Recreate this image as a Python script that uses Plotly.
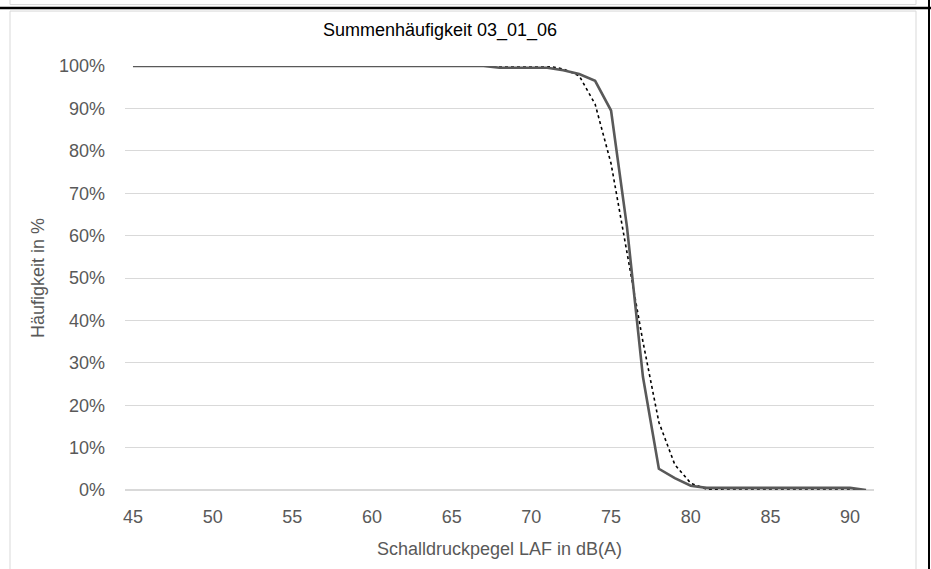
import plotly.graph_objects as go

# ---- data ----
pegel_db = [45, 46, 47, 48, 49, 50, 51, 52, 53, 54, 55, 56, 57, 58, 59, 60,
            61, 62, 63, 64, 65, 66, 67, 68, 69, 70, 71, 72, 73, 74, 75, 76,
            77, 78, 79, 80, 81, 82, 83, 84, 85, 86, 87, 88, 89, 90, 91]
serie_solid = [100, 100, 100, 100, 100, 100, 100, 100, 100, 100, 100, 100,
               100, 100, 100, 100, 100, 100, 100, 100, 100, 100, 100,
               99.6, 99.6, 99.6, 99.6, 99.0, 98.1, 96.5, 89.5, 62.0,
               26.7, 5.0, 2.8, 1.0, 0.5, 0.5, 0.5, 0.5, 0.5, 0.5, 0.5,
               0.5, 0.5, 0.5, 0.0]
serie_dotted = [100, 100, 100, 100, 100, 100, 100, 100, 100, 100, 100, 100,
                100, 100, 100, 100, 100, 100, 100, 100, 100, 100, 100,
                100, 100, 100, 100, 99.3, 97.7, 91.0, 77.0, 56.0,
                35.0, 16.0, 6.0, 1.6, 0.2, 0.0, 0.0, 0.0, 0.0, 0.0, 0.0,
                0.0, 0.0, 0.0, 0.0]
x_ticks = [45, 50, 55, 60, 65, 70, 75, 80, 85, 90]
y_ticks = [0, 10, 20, 30, 40, 50, 60, 70, 80, 90, 100]
y_tick_labels = ["0%", "10%", "20%", "30%", "40%", "50%", "60%", "70%",
                 "80%", "90%", "100%"]

W, H = 931, 569
L, R, T, B = 125, 874, 65.5, 490
FONT = "Liberation Sans, Arial, sans-serif"
TXT = "#595959"


def px(x):
    return (x - L) / (R - L)


def py(y):
    return (B - y) / (B - T)


fig = go.Figure()
fig.add_trace(go.Scatter(x=pegel_db, y=serie_dotted, mode="lines",
                         line=dict(color="#000000", width=1.6, dash="dot"),
                         showlegend=False))
fig.add_trace(go.Scatter(x=pegel_db, y=serie_solid, mode="lines",
                         line=dict(color="#595959", width=2.6),
                         showlegend=False))

shapes = []
# frame of this chart (Word-like page)
shapes.append(dict(type="rect", xref="paper", yref="paper",
                   x0=px(10), x1=px(916), y0=py(600), y1=py(10.5),
                   line=dict(color="#d9d9d9", width=1), fillcolor="rgba(0,0,0,0)",
                   layer="below"))
# bottom edge of previous chart frame
shapes.append(dict(type="line", xref="paper", yref="paper",
                   x0=px(10), x1=px(916), y0=py(4), y1=py(4),
                   line=dict(color="#d9d9d9", width=1)))
shapes.append(dict(type="line", xref="paper", yref="paper",
                   x0=px(10), x1=px(10), y0=py(-5), y1=py(4),
                   line=dict(color="#d9d9d9", width=1)))
shapes.append(dict(type="line", xref="paper", yref="paper",
                   x0=px(916), x1=px(916), y0=py(-5), y1=py(4),
                   line=dict(color="#d9d9d9", width=1)))
# black page rules
shapes.append(dict(type="line", xref="paper", yref="paper",
                   x0=px(-5), x1=px(940), y0=py(7.5), y1=py(7.5),
                   line=dict(color="#000000", width=2.5)))
shapes.append(dict(type="line", xref="paper", yref="paper",
                   x0=px(929), x1=px(929), y0=py(-5), y1=py(600),
                   line=dict(color="#000000", width=2)))

fig.update_layout(
    width=W, height=H,
    margin=dict(l=L, r=W - R, t=T, b=H - B, pad=0),
    paper_bgcolor="white", plot_bgcolor="white",
    title=dict(text="Summenhäufigkeit 03_01_06", x=440 / W,
               xanchor="center", y=1 - 30 / H, yanchor="middle",
               font=dict(family=FONT, size=18, color="#000000")),
    font=dict(family=FONT, size=18, color=TXT),
    shapes=shapes,
    xaxis=dict(range=[44.5, 91.5], tickvals=x_ticks, showgrid=False,
               zeroline=False, showline=False, ticks="", automargin=False,
               ticklabelstandoff=14,
               tickfont=dict(family=FONT, size=18, color=TXT),
               title=dict(text="Schalldruckpegel LAF in dB(A)", standoff=16,
                          font=dict(family=FONT, size=18, color=TXT))),
    yaxis=dict(range=[0, 100], tickvals=y_ticks, ticktext=y_tick_labels,
               showgrid=True, gridcolor="#d9d9d9", gridwidth=1,
               zeroline=True, zerolinecolor="#d9d9d9", zerolinewidth=2,
               showline=False, ticks="", ticklabelstandoff=19,
               automargin=False,
               tickfont=dict(family=FONT, size=18, color=TXT),
               title=dict(text="Häufigkeit in %", standoff=9,
                          font=dict(family=FONT, size=18, color=TXT))),
)

fig.write_html("out.html",
               config={"displayModeBar": False},
               post_script="document.body.style.margin='0';"
                           "document.body.style.overflow='hidden';")
